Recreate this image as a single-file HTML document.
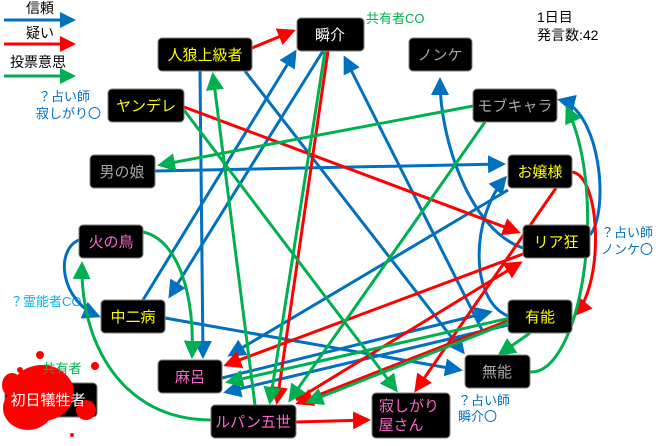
<!DOCTYPE html>
<html><head><meta charset="utf-8"><style>
body{margin:0;background:#fff;}
svg text{font-family:"Liberation Sans","Noto Sans CJK JP",sans-serif;}
</style></head><body>
<svg width="660" height="441" viewBox="0 0 660 441" xmlns="http://www.w3.org/2000/svg">
<defs>
<marker id="b" markerWidth="6" markerHeight="6" refX="5" refY="3" orient="auto" markerUnits="strokeWidth"><path d="M0,0 L6,3 L0,6 z" fill="#0070c0"/></marker>
<marker id="r" markerWidth="6" markerHeight="6" refX="5" refY="3" orient="auto" markerUnits="strokeWidth"><path d="M0,0 L6,3 L0,6 z" fill="#ff0000"/></marker>
<marker id="g" markerWidth="6" markerHeight="6" refX="5" refY="3" orient="auto" markerUnits="strokeWidth"><path d="M0,0 L6,3 L0,6 z" fill="#00b050"/></marker>
</defs>
<!-- legend -->
<g stroke-width="3" fill="none">
<line x1="4" y1="20" x2="60" y2="20" stroke="#0070c0"/>
<line x1="4" y1="44" x2="60" y2="44" stroke="#ff0000"/>
<line x1="4" y1="76" x2="60" y2="76" stroke="#00b050"/>
</g>
<path d="M60,12 L76,20 L60,28 z" fill="#0070c0"/>
<path d="M60,36 L76,44 L60,52 z" fill="#ff0000"/>
<path d="M60,68 L76,76 L60,84 z" fill="#00b050"/>
<g font-size="14" fill="#000">
<text x="26" y="13">信頼</text><text x="26" y="38">疑い</text><text x="10" y="67">投票意思</text>
<text x="537" y="22">1日目</text><text x="537" y="40">発言数:42</text>
</g>
<g font-size="13" fill="#0070c0">
<text x="38" y="101">？占い師</text><text x="36" y="118">寂しがり〇</text>
<text x="601" y="237">？占い師</text><text x="601" y="254">ノンケ〇</text>
<text x="458" y="405">？占い師</text><text x="458" y="421">瞬介〇</text>
</g>
<text x="10" y="306" font-size="13" fill="#00b0f0">？霊能者CO</text>
<text x="366" y="23" font-size="13" fill="#00b050">共有者CO</text>
<!-- edges -->
<g stroke-width="3" fill="none">
<line x1="200" y1="71" x2="203" y2="356" stroke="#0070c0" marker-end="url(#b)"/>
<line x1="245" y1="71" x2="463" y2="352" stroke="#0070c0" marker-end="url(#b)"/>
<line x1="143" y1="300" x2="295" y2="52" stroke="#0070c0" marker-end="url(#b)"/>
<line x1="323" y1="51" x2="170" y2="296" stroke="#0070c0" marker-end="url(#b)"/>
<line x1="155" y1="171" x2="503" y2="164" stroke="#0070c0" marker-end="url(#b)"/>
<line x1="165" y1="318" x2="460" y2="370" stroke="#0070c0" marker-end="url(#b)"/>
<line x1="482" y1="330" x2="345" y2="58" stroke="#0070c0" marker-end="url(#b)"/>
<line x1="508" y1="190" x2="230" y2="355" stroke="#0070c0" marker-end="url(#b)"/>
<line x1="222" y1="378" x2="490" y2="312" stroke="#0070c0" marker-end="url(#b)"/>
<line x1="508" y1="325" x2="226" y2="392" stroke="#0070c0" marker-end="url(#b)"/>
<path d="M523,248 C470,230 440,140 440,80" stroke="#0070c0" marker-end="url(#b)"/>
<path d="M508,316 C470,300 470,220 505,178" stroke="#0070c0" marker-end="url(#b)"/>
<path d="M590,235 C610,210 600,110 560,100" stroke="#0070c0" marker-end="url(#b)"/>
<path d="M79,240 C55,250 60,300 98,316" stroke="#0070c0" marker-end="url(#b)"/>
<line x1="252" y1="48" x2="293" y2="31" stroke="#ff0000" marker-end="url(#r)"/>
<line x1="184" y1="107" x2="518" y2="232" stroke="#ff0000" marker-end="url(#r)"/>
<line x1="556" y1="188" x2="416" y2="390" stroke="#ff0000" marker-end="url(#r)"/>
<path d="M572,172 C600,175 605,280 576,314" stroke="#ff0000" marker-end="url(#r)"/>
<line x1="328" y1="51" x2="277" y2="402" stroke="#ff0000" marker-end="url(#r)"/>
<line x1="523" y1="254" x2="226" y2="365" stroke="#ff0000" marker-end="url(#r)"/>
<line x1="296" y1="400" x2="520" y2="263" stroke="#ff0000" marker-end="url(#r)"/>
<line x1="510" y1="320" x2="298" y2="403" stroke="#ff0000" marker-end="url(#r)"/>
<line x1="296" y1="422" x2="368" y2="420" stroke="#ff0000" marker-end="url(#r)"/>
<line x1="184" y1="110" x2="396" y2="390" stroke="#00b050" marker-end="url(#g)"/>
<line x1="255" y1="405" x2="213" y2="75" stroke="#00b050" marker-end="url(#g)"/>
<line x1="473" y1="106" x2="160" y2="165" stroke="#00b050" marker-end="url(#g)"/>
<line x1="325" y1="51" x2="270" y2="402" stroke="#00b050" marker-end="url(#g)"/>
<line x1="485" y1="122" x2="290" y2="400" stroke="#00b050" marker-end="url(#g)"/>
<line x1="510" y1="322" x2="308" y2="402" stroke="#00b050" marker-end="url(#g)"/>
<line x1="510" y1="318" x2="228" y2="382" stroke="#00b050" marker-end="url(#g)"/>
<line x1="530" y1="333" x2="500" y2="354" stroke="#00b050" marker-end="url(#g)"/>
<path d="M143,232 C180,240 195,300 192,356" stroke="#00b050" marker-end="url(#g)"/>
<path d="M211,420 C120,420 80,340 82,264" stroke="#00b050" marker-end="url(#g)"/>
<path d="M530,372 C580,375 610,200 567,108" stroke="#00b050" marker-end="url(#g)"/>
</g>
<!-- nodes -->
<g stroke="#7f7f7f" stroke-width="1" fill="#000">
<rect x="158" y="38" width="94" height="33" rx="4"/>
<rect x="297" y="18" width="67" height="33" rx="4"/>
<rect x="409" y="38" width="63" height="33" rx="4"/>
<rect x="473" y="89" width="84" height="33" rx="4"/>
<rect x="508" y="155" width="64" height="33" rx="4"/>
<rect x="108" y="89" width="76" height="33" rx="4"/>
<rect x="90" y="155" width="65" height="33" rx="4"/>
<rect x="79" y="225" width="64" height="33" rx="4"/>
<rect x="101" y="300" width="64" height="33" rx="4"/>
<rect x="158" y="360" width="64" height="33" rx="4"/>
<rect x="211" y="405" width="85" height="33" rx="4"/>
<rect x="372" y="393" width="78" height="45" rx="4"/>
<rect x="465" y="355" width="65" height="33" rx="4"/>
<rect x="508" y="300" width="64" height="33" rx="4"/>
<rect x="523" y="225" width="67" height="33" rx="4"/>
<rect x="5" y="383" width="92" height="34" rx="4"/>
</g>
<!-- blood blob -->
<g fill="#ff0000">
<ellipse cx="42" cy="393" rx="32" ry="28"/>
<ellipse cx="28" cy="408" rx="25" ry="22"/>
<ellipse cx="86" cy="410" rx="10" ry="10"/>
<ellipse cx="12" cy="385" rx="10" ry="12"/>
<circle cx="40" cy="355" r="4"/><circle cx="95" cy="366" r="4"/><circle cx="72" cy="435" r="2"/><circle cx="20" cy="370" r="3"/>
</g>
<g font-size="15" text-anchor="middle">
<text x="205" y="60" fill="#ffff00">人狼上級者</text>
<text x="330" y="40" fill="#fff">瞬介</text>
<text x="440" y="60" fill="#a6a6a6">ノンケ</text>
<text x="515" y="111" fill="#a6a6a6">モブキャラ</text>
<text x="540" y="177" fill="#ffff00">お嬢様</text>
<text x="146" y="111" fill="#ffff00">ヤンデレ</text>
<text x="122" y="177" fill="#a6a6a6">男の娘</text>
<text x="111" y="247" fill="#ff66cc">火の鳥</text>
<text x="133" y="322" fill="#ffff00">中二病</text>
<text x="190" y="382" fill="#ff66cc">麻呂</text>
<text x="253" y="427" fill="#ff66cc">ルパン五世</text>
<text x="409" y="411" fill="#ff66cc">寂しがり</text>
<text x="401" y="430" fill="#ff66cc">屋さん</text>
<text x="497" y="377" fill="#a6a6a6">無能</text>
<text x="540" y="322" fill="#ffff00">有能</text>
<text x="556" y="247" fill="#ffff00">リア狂</text>
<text x="48" y="405" fill="#fff">初日犠牲者</text>
<text x="62" y="373" font-size="13" fill="#00b050">共有者</text>
</g>
</svg>
</body></html>
